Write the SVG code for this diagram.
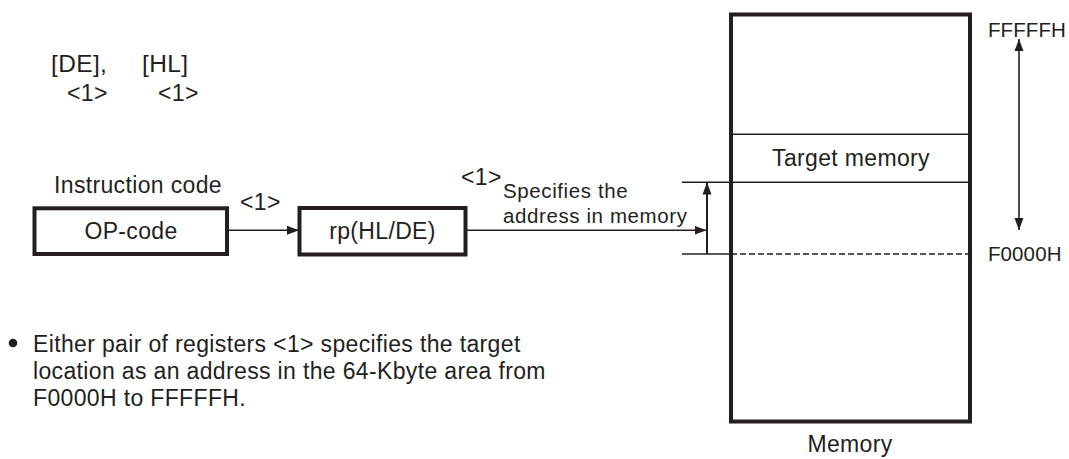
<svg xmlns="http://www.w3.org/2000/svg" width="1069" height="459" viewBox="0 0 1069 459">
<style>
text{font-family:"Liberation Sans",Arial,sans-serif;fill:#231f20;font-size:23px;letter-spacing:0.35px}
.s{font-size:20.5px;letter-spacing:0.6px}
.h{font-size:24.5px}
.a{font-size:20.5px;letter-spacing:0.1px}
.m{text-anchor:middle}
.box{fill:#fff;stroke:#231f20;stroke-width:4}
.ln{stroke:#231f20;stroke-width:1.6;fill:none}
.ar{stroke:#231f20;stroke-width:1.6;fill:none;marker-end:url(#ah)}
</style>
<defs>
<marker id="ah" markerUnits="userSpaceOnUse" markerWidth="12" markerHeight="10" refX="12" refY="5" orient="auto">
<path d="M0,0.5 L12,5 L0,9.5 Z" fill="#231f20"/>
</marker>
<marker id="ahs" markerUnits="userSpaceOnUse" markerWidth="12" markerHeight="10" refX="0" refY="5" orient="auto">
<path d="M12,0.5 L0,5 L12,9.5 Z" fill="#231f20"/>
</marker>
</defs>
<rect width="1069" height="459" fill="#fff"/>
<g id="header">
<text x="51" y="72" class="h">[DE],</text>
<text x="142" y="72" class="h">[HL]</text>
<text x="67" y="101">&lt;1&gt;</text>
<text x="158" y="101">&lt;1&gt;</text>
</g>
<g id="opcode">
<text x="54" y="193">Instruction code</text>
<rect class="box" x="34.5" y="208.3" width="192.5" height="45.7"/>
<text x="131" y="238.5" class="m">OP-code</text>
</g>
<g id="rp">
<rect class="box" x="299.5" y="208" width="166" height="46.5"/>
<text x="382.5" y="238.5" class="m">rp(HL/DE)</text>
</g>
<g id="memory">
<rect class="box" x="731" y="14.5" width="239" height="407"/>
<line class="ln" x1="731" y1="134.3" x2="970" y2="134.3"/>
<text x="851" y="166" class="m">Target memory</text>
<text x="850" y="452" class="m">Memory</text>
</g>
<g id="addresses">
<text x="988" y="36.5" class="a">FFFFFH</text>
<text x="988" y="261" class="a">F0000H</text>
</g>
<g id="note">
<circle cx="13" cy="343" r="4.3" fill="#231f20"/>
<text x="33" y="352">Either pair of registers &lt;1&gt; specifies the target</text>
<text x="33" y="379">location as an address in the 64-Kbyte area from</text>
<text x="33" y="406">F0000H to FFFFFH.</text>
</g>
<g id="connectors">
<line class="ar" x1="227" y1="230.3" x2="299" y2="230.3"/>
<text x="240" y="210">&lt;1&gt;</text>
<line class="ar" x1="466" y1="230.3" x2="706.5" y2="230.3"/>
<text x="461" y="185">&lt;1&gt;</text>
<text x="503" y="198" class="s">Specifies the</text>
<text x="503" y="223" class="s">address in memory</text>
<line class="ln" x1="682" y1="182.3" x2="970" y2="182.3"/>
<line class="ln" x1="682" y1="254" x2="731" y2="254"/>
<line class="ln" x1="731" y1="254" x2="970" y2="254" stroke-dasharray="6 3"/>
<line class="ar" x1="707" y1="254" x2="707" y2="182.5" style="stroke-width:2"/>
<line class="ar" x1="1019" y1="230" x2="1019" y2="39" style="marker-start:url(#ahs)"/>
</g>
</svg>
